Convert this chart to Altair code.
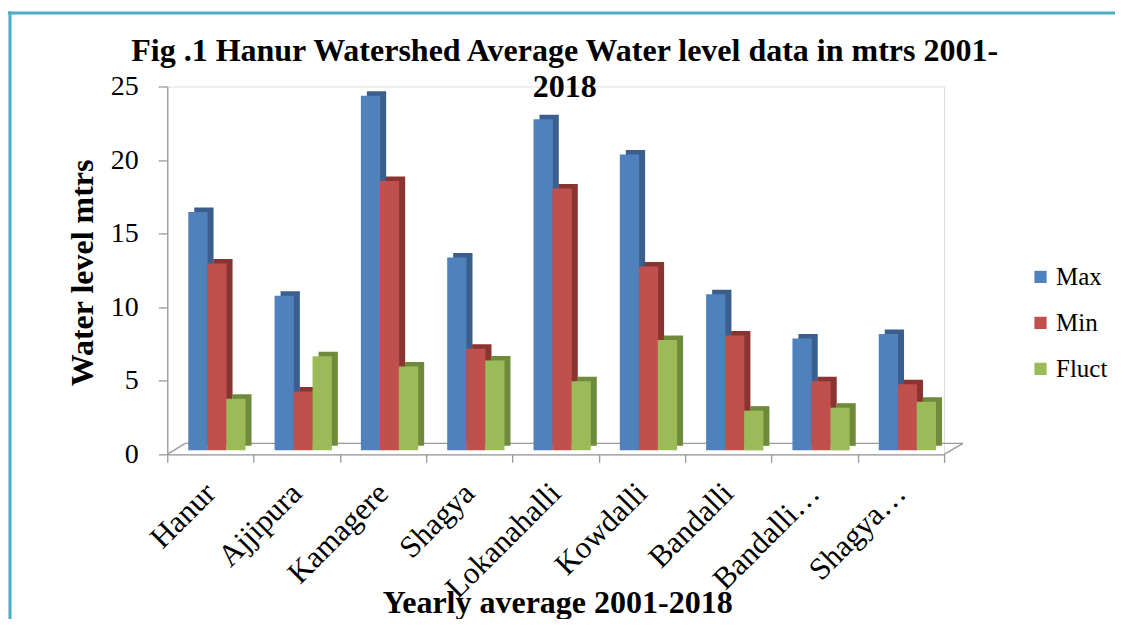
import altair as alt
import pandas as pd

places = ["Hanur", "Ajjipura", "Kamagere", "Shagya", "Lokanahalli",
          "Kowdalli", "Bandalli", "Bandalli…", "Shagya…"]
series_names = ["Max", "Min", "Fluct"]
max_vals = [16.2, 10.5, 24.1, 13.1, 22.5, 20.1, 10.6, 7.6, 7.9]
min_vals = [12.7, 4.0, 18.3, 6.9, 17.8, 12.5, 7.8, 4.7, 4.5]
fluct_vals = [3.5, 6.4, 5.7, 6.1, 4.7, 7.5, 2.7, 2.9, 3.3]

front_colors = ["#4F81BD", "#C0504D", "#9BBB59"]
side_colors = ["#3A5F8F", "#8A3432", "#6E8B3C"]
bar_offsets = [-12.5, 6.5, 25.5]

rows = []
for s, vals in zip(series_names, [max_vals, min_vals, fluct_vals]):
    for p, v in zip(places, vals):
        rows.append({"place": p, "series": s, "value": v})
df = pd.DataFrame(rows)

FONT = "Liberation Serif"
GRAY = "#9A9A9A"
W, H = 777, 368

x_enc = alt.X("place:N", sort=places,
              scale=alt.Scale(paddingInner=0, paddingOuter=0),
              axis=alt.Axis(title="Yearly average 2001-2018", tickBand="extent",
                            labelAngle=-45, labelAlign="right", labelBaseline="middle",
                            labelFont=FONT, labelFontSize=31, labelColor="black",
                            labelPadding=26, tickSize=8, tickColor=GRAY, tickWidth=1.3,
                            domainColor=GRAY, domainWidth=1.3,
                            titleFont=FONT, titleFontSize=32, titleFontWeight="bold",
                            titleColor="black", titleX=390, titleY=148,
                            titleAlign="center", titleBaseline="middle"))
y_enc = alt.Y("value:Q",
              scale=alt.Scale(domain=[0, 25], nice=False),
              axis=alt.Axis(title="Water level mtrs", values=[0, 5, 10, 15, 20, 25],
                            grid=False, labelFont=FONT, labelFontSize=28,
                            labelColor="black", labelPadding=20, tickSize=9,
                            tickColor=GRAY, tickWidth=1.3, domainColor=GRAY,
                            domainWidth=1.3, titleFont=FONT, titleFontSize=32,
                            titleFontWeight="bold", titleColor="black",
                            titleX=-85, titleY=186, titleAngle=270,
                            titleAlign="center", titleBaseline="middle"))
color_enc = alt.Color("series:N",
                      scale=alt.Scale(domain=series_names, range=front_colors),
                      legend=alt.Legend(title=None, orient="none", legendX=861,
                                        legendY=178, symbolType="square",
                                        symbolSize=150, symbolStrokeWidth=0,
                                        labelFont=FONT, labelFontSize=25,
                                        labelColor="black", rowPadding=20,
                                        labelOffset=3, padding=0))

base = alt.Chart(df)

backs = []
fronts = []
for s, off, sc in zip(series_names, bar_offsets, side_colors):
    sub = base.transform_filter(alt.datum.series == s)
    backs.append(sub.mark_bar(width=19.3, xOffset=off + 6, yOffset=-8.5,
                              y2Offset=-8.5, color=sc)
                 .encode(x=x_enc, y=y_enc))
    fronts.append(sub.mark_bar(width=19.3, xOffset=off, yOffset=-4, y2Offset=-4)
                  .encode(x=x_enc, y=y_enc, color=color_enc))

one = alt.Chart(pd.DataFrame({"k": [0]}))
floor_back = one.mark_rule(color=GRAY, strokeWidth=1.3).encode(
    x=alt.value(18), x2=alt.value(796), y=alt.value(357))
floor_left = one.mark_rule(color=GRAY, strokeWidth=1.3).encode(
    x=alt.value(0), x2=alt.value(18), y=alt.value(H), y2=alt.value(357))
floor_right = one.mark_rule(color=GRAY, strokeWidth=1.3).encode(
    x=alt.value(W), x2=alt.value(796), y=alt.value(H), y2=alt.value(357))
border_top = one.mark_rule(color="#4BACC6", strokeWidth=3).encode(
    x=alt.value(-159.3), x2=alt.value(948), y=alt.value(-73.4))
border_left = one.mark_rule(color="#4BACC6", strokeWidth=3).encode(
    x=alt.value(-157.3), y=alt.value(-74.9), y2=alt.value(540))

chart = alt.layer(
    border_top, border_left, floor_back, floor_left, floor_right,
    *backs, *fronts
).properties(
    width=W, height=H,
    autosize=alt.AutoSizeParams(type="none"),
    padding={"left": 159.3, "top": 78.4, "right": 172, "bottom": 164.6},
    title=alt.TitleParams(
        text=["Fig .1 Hanur Watershed Average Water level data in mtrs 2001-", "2018"],
        font=FONT, fontSize=32, fontWeight="bold", color="black",
        anchor="middle", frame="group", offset=-94, dx=9, lineHeight=36),
).configure_view(stroke=None).configure(background="white")

chart.save("out.html", embed_options={"renderer": "svg", "actions": False})
